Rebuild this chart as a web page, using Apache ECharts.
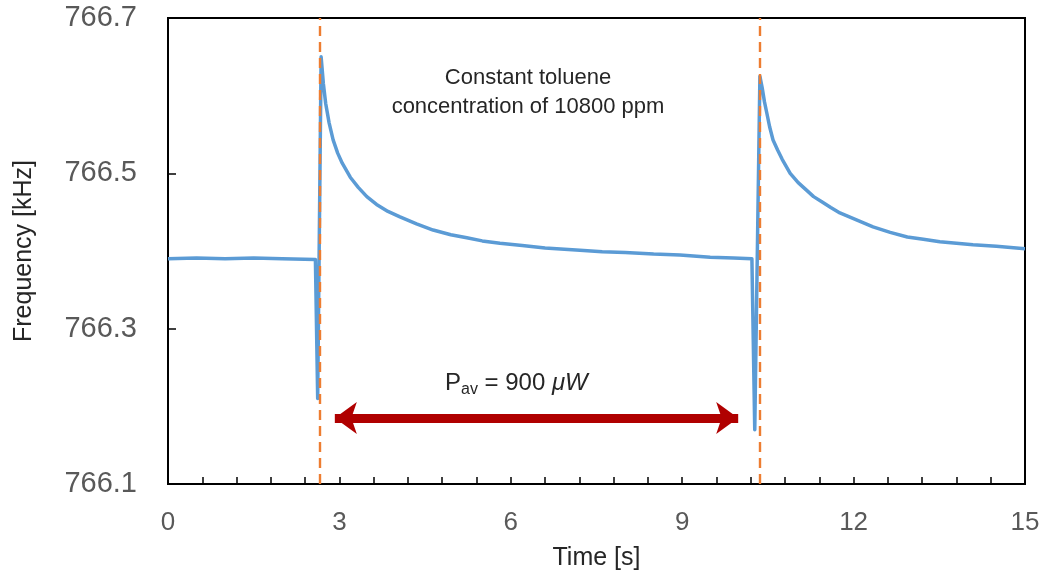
<!DOCTYPE html>
<html>
<head>
<meta charset="utf-8">
<script src="https://cdn.jsdelivr.net/npm/echarts@6/dist/echarts.min.js"></script>
<style>
html,body{margin:0;padding:0;background:#fff;}
#chart{width:1045px;height:577px;}
</style>
</head>
<body>
<div id="chart"></div>
<script>
// ---- data ----
const timeS = [0, 0.5, 1.0, 1.5, 2.0, 2.58, 2.62,
  2.68, 2.72, 2.76, 2.82, 2.89, 2.97, 3.05, 3.19, 3.33, 3.48, 3.65, 3.85, 4.06, 4.35, 4.64, 4.95, 5.23, 5.5, 5.81, 6.2, 6.6, 7.21, 7.6, 8.0, 8.5, 8.96, 9.49, 9.9, 10.22, 10.27,
  10.36, 10.40, 10.44, 10.48, 10.53, 10.59, 10.67, 10.75, 10.89, 11.03, 11.18, 11.3, 11.45, 11.6, 11.76, 12.05, 12.34, 12.64, 12.94, 13.22, 13.51, 13.8, 14.09, 14.5, 15.0];
const freqKHz = [766.390, 766.391, 766.390, 766.391, 766.390, 766.389, 766.21,
  766.65, 766.615, 766.59, 766.565, 766.543, 766.526, 766.513, 766.495, 766.482, 766.470, 766.460, 766.451, 766.444, 766.435, 766.427, 766.421, 766.417, 766.413, 766.410, 766.407, 766.404, 766.401, 766.399, 766.398, 766.396, 766.395, 766.392, 766.391, 766.390, 766.17,
  766.625, 766.61, 766.592, 766.578, 766.56, 766.543, 766.53, 766.518, 766.500, 766.488, 766.478, 766.47, 766.463, 766.456, 766.449, 766.44, 766.431, 766.424, 766.418, 766.415, 766.412, 766.41, 766.408, 766.406, 766.403];
const eventTimes = [2.65, 10.35];           // dashed markers
const arrowSpan = [2.92, 9.98];             // P_av arrow start/end (s)
const arrowLevel = 766.185;                 // arrow height (kHz)
const yTicks = [766.1, 766.3, 766.5, 766.7];
const xTicks = [0, 3, 6, 9, 12, 15];
const yBase = 766.1;                        // axis origin

const lineData = timeS.map((t, i) => [t, +(freqKHz[i] - yBase).toFixed(4)]);

const chart = echarts.init(document.getElementById('chart'));
const labelGray = '#595959';
chart.setOption({
  animation: false,
  backgroundColor: '#fff',
  grid: {left: 168, right: 20, top: 18, bottom: 93, show: true, borderColor: '#000', borderWidth: 2, backgroundColor: 'transparent'},
  xAxis: {
    type: 'value', min: xTicks[0], max: xTicks[xTicks.length - 1], interval: 3,
    axisLine: {lineStyle: {color: '#000', width: 2}},
    axisTick: {show: true, inside: true, length: 7, lineStyle: {color: '#000', width: 1.5}},
    minorTick: {show: true, splitNumber: 5, length: 7, lineStyle: {color: '#000', width: 1.5}},
    splitLine: {show: false},
    axisLabel: {color: labelGray, fontSize: 26, fontFamily: 'Liberation Sans Narrow, Liberation Sans, Arial', margin: 26},
    name: 'Time [s]', nameLocation: 'middle', nameGap: 62,
    nameTextStyle: {color: '#262626', fontSize: 25, fontFamily: 'Liberation Sans Narrow, Liberation Sans, Arial'}
  },
  yAxis: {
    type: 'value', min: 0, max: +(yTicks[yTicks.length - 1] - yBase).toFixed(4), interval: 0.2,
    axisLine: {lineStyle: {color: '#000', width: 2}},
    axisTick: {show: true, inside: true, length: 8, lineStyle: {color: '#000', width: 1.5}},
    splitLine: {show: false},
    axisLabel: {color: labelGray, fontSize: 29, fontFamily: 'Liberation Sans, Arial', margin: 31,
      formatter: v => (v + yBase).toFixed(1)},
    name: 'Frequency [kHz]', nameLocation: 'middle', nameGap: 131, nameRotate: 90,
    nameTextStyle: {color: '#262626', fontSize: 25, fontFamily: 'Liberation Sans, Arial'}
  },
  series: [
    {
      type: 'line', data: lineData, showSymbol: false, symbol: 'none',
      smooth: false,
      lineStyle: {color: '#5B9BD5', width: 3.5, join: 'round'}, z: 2
    },
    {
      type: 'line', data: [], z: 3,
      markLine: {
        silent: true, symbol: ['none', 'none'], label: {show: false},
        lineStyle: {color: '#ED7D31', type: [10, 6], width: 2.4},
        data: eventTimes.map(t => ({xAxis: t}))
      }
    },
    {
      type: 'line', data: [], z: 4,
      markLine: {
        silent: true, symbol: ['arrow', 'arrow'], symbolSize: [24, 22], label: {show: false},
        lineStyle: {color: '#B00000', type: 'solid', width: 9},
        data: [[{coord: [arrowSpan[0], +(arrowLevel - yBase).toFixed(4)]}, {coord: [arrowSpan[1], +(arrowLevel - yBase).toFixed(4)]}]]
      }
    }
  ],
  graphic: [
    {type: 'text', style: {text: 'Constant toluene\nconcentration of 10800 ppm', x: 528, y: 63, align: 'center', verticalAlign: 'top', fill: '#262626', font: '22px "Liberation Sans", Arial', lineHeight: 29}},
    {type: 'text', style: {
      x: 445, y: 383, verticalAlign: 'middle',
      rich: {
        a: {fill: '#262626', fontSize: 24, fontFamily: 'Liberation Sans, Arial'},
        s: {fill: '#262626', fontSize: 16, fontFamily: 'Liberation Sans, Arial', padding: [13, 0, 0, 0]},
        i: {fill: '#262626', fontSize: 24, fontFamily: 'Liberation Sans, Arial', fontStyle: 'italic'}
      },
      text: '{a|P}{s|av}{a| = 900 }{i|\u03BCW}'
    }}
  ]
});
</script>
</body>
</html>
